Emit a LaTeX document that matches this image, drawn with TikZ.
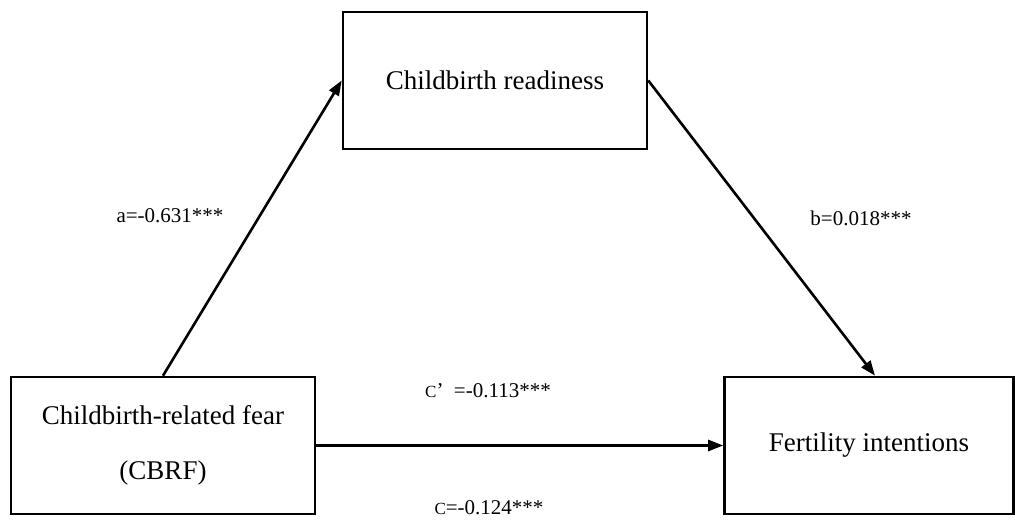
\documentclass[tikz,border=0pt]{standalone}
\usepackage{fontspec}
\setmainfont{Liberation Serif}
\usetikzlibrary{
  positioning,
  arrows.meta,
}
\newcommand{\smallc}{{\fontsize{17}{17}\selectfont C}}

\begin{document}
\begin{tikzpicture}[x=1pt,y=-1pt,
  varbox/.style={draw,line width=2.6pt,minimum height=137pt,font=\fontsize{27}{55}\selectfont,align=center},
  path/.style={line width=2.6pt,-{Triangle[length=15pt,width=11pt]}},
  coef/.style={font=\fontsize{21}{24}\selectfont}]
\useasboundingbox (0,0) rectangle (1015,523);
\node[varbox,minimum width=304pt] (ready) at (495,80.5) {Childbirth readiness};
\node[varbox,minimum width=304pt] (fear) at (163,445.5) {Childbirth-related fear\\(CBRF)};
\node[varbox,minimum width=289pt] (intent) at (869,445.5) {Fertility intentions};
\draw[path] (fear.north) -- (ready.west);
\draw[path] (ready.east) -- ([xshift=6pt]intent.north);
\draw[path] (fear.east) -- (intent.west);
\node[coef] (a) at (170,216) {a=-0.631***};
\node[coef] (b) at (861,218) {b=0.018***};
\node[coef] (cp) at (488,391) {\smallc’\ \ =-0.113***};
\node[coef] (c) at (489,508) {\smallc=-0.124***};
\end{tikzpicture}
\end{document}
